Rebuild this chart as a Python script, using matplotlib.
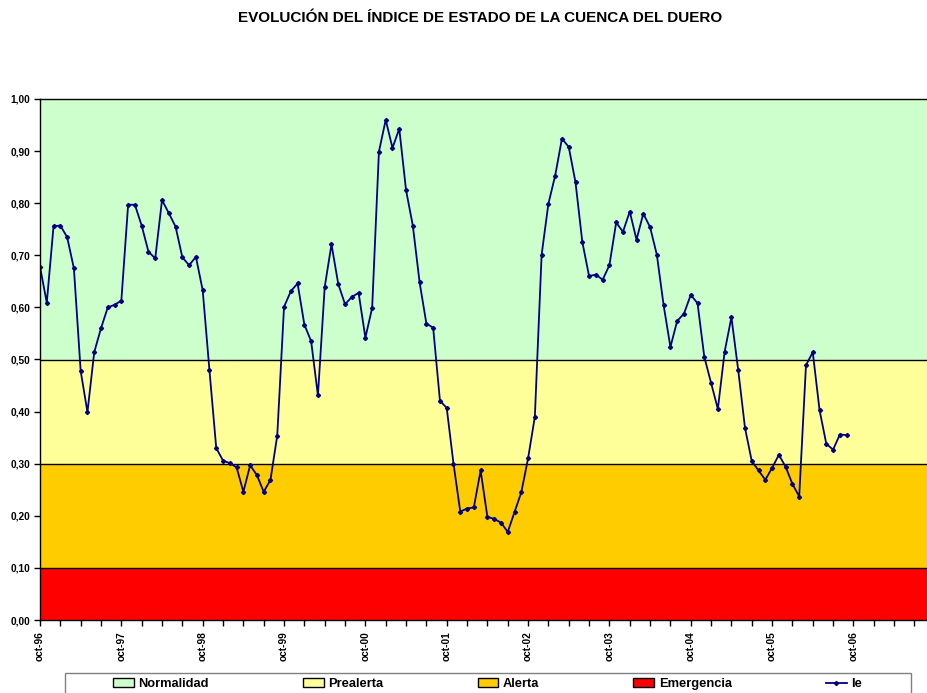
import numpy as np
import matplotlib
matplotlib.use("Agg")
import matplotlib.pyplot as plt
from matplotlib.patches import Patch, Rectangle
from matplotlib.lines import Line2D
from matplotlib.ticker import FuncFormatter, MultipleLocator

plt.rcParams['font.family'] = ['Liberation Sans', 'DejaVu Sans']

# Monthly state index of the Duero basin, oct-96 .. sep-06
ie_values = [
    0.678, 0.609, 0.756, 0.757, 0.735, 0.675, 0.478, 0.399, 0.514, 0.560, 0.600, 0.605,
    0.613, 0.797, 0.797, 0.757, 0.707, 0.694, 0.806, 0.781, 0.755, 0.696, 0.681, 0.697,
    0.633, 0.479, 0.330, 0.306, 0.301, 0.293, 0.246, 0.297, 0.278, 0.246, 0.269, 0.354,
    0.601, 0.631, 0.646, 0.567, 0.535, 0.431, 0.639, 0.721, 0.645, 0.606, 0.620, 0.628,
    0.542, 0.599, 0.899, 0.960, 0.906, 0.943, 0.825, 0.757, 0.648, 0.569, 0.561, 0.421,
    0.407, 0.300, 0.208, 0.214, 0.216, 0.287, 0.198, 0.194, 0.187, 0.169, 0.207, 0.245,
    0.310, 0.390, 0.701, 0.799, 0.853, 0.924, 0.908, 0.840, 0.726, 0.660, 0.663, 0.653,
    0.681, 0.763, 0.745, 0.784, 0.730, 0.780, 0.754, 0.701, 0.604, 0.524, 0.574, 0.588,
    0.624, 0.608, 0.505, 0.455, 0.405, 0.515, 0.581, 0.480, 0.369, 0.305, 0.287, 0.269,
    0.292, 0.317, 0.294, 0.261, 0.237, 0.489, 0.514, 0.403, 0.338, 0.327, 0.356, 0.355,
]

# Threshold bands (lower, upper) and their names / colours
band_names = ["Normalidad", "Prealerta", "Alerta", "Emergencia"]
band_lower = [0.5, 0.3, 0.1, 0.0]
band_upper = [1.0, 0.5, 0.3, 0.1]
band_colors = ["#CCFFCC", "#FFFF99", "#FFCC00", "#FF0000"]

# Month axis: oct-96 .. sep-07
n_months = 132
year_labels = ["oct-96", "oct-97", "oct-98", "oct-99", "oct-00", "oct-01",
               "oct-02", "oct-03", "oct-04", "oct-05", "oct-06"]

fig = plt.figure(figsize=(9.28, 6.93), dpi=100)
W, H = 928, 693
ax = fig.add_axes([40 / W, 1 - 620 / H, (928 - 40) / W, (620 - 99) / H])

for lo, hi, col in zip(band_lower, band_upper, band_colors):
    ax.fill_between([0, n_months - 1], [lo, lo], [hi, hi], color=col, lw=0, zorder=1)
for lo in band_lower[:-1]:
    ax.axhline(lo, color="black", lw=1.0, zorder=2)

x = np.arange(len(ie_values))
ax.plot(x, ie_values, color="#000080", lw=1.3, marker="D", ms=2.1,
        mec="#000080", mfc="#000080", zorder=3)

ax.set_xlim(0, n_months - 1)
ax.set_ylim(0, 1.0)

ax.yaxis.set_major_locator(MultipleLocator(0.1))
ax.yaxis.set_major_formatter(FuncFormatter(lambda v, p: f"{v:.2f}".replace(".", ",")))
ax.set_xticks(np.arange(0, n_months, 3))
ax.set_xticklabels([year_labels[i // 12] if (i % 12 == 0 and i // 12 < len(year_labels)) else ""
                    for i in range(0, n_months, 3)])
ax.tick_params(axis="x", length=4, width=1, rotation=90, labelsize=7.3, pad=4)
ax.tick_params(axis="y", length=4, width=1, labelsize=7.3, pad=3)
for lbl in ax.get_xticklabels() + ax.get_yticklabels():
    lbl.set_fontweight("bold")

for side in ["left", "bottom", "top", "right"]:
    ax.spines[side].set_color("black")
    ax.spines[side].set_linewidth(1.0)
    ax.spines[side].set_zorder(4)

fig.text(480.5 / W, 1 - 18 / H, "EVOLUCIÓN DEL ÍNDICE DE ESTADO DE LA CUENCA DEL DUERO",
         ha="center", va="center", fontsize=11, fontweight="bold")

# Legend box along the bottom edge
fig.patches.append(Rectangle((65 / W, -0.02), (911 - 65) / W, 0.02 + (693 - 673) / H,
                             transform=fig.transFigure, facecolor="white",
                             edgecolor="#808080", lw=1.0, zorder=0))
handles = [Patch(facecolor=c, edgecolor="black", lw=1.0) for c in band_colors]
handles.append(Line2D([], [], color="#000080", lw=1.3, marker="D", ms=2.1))
labels = band_names + ["Ie"]
leg = fig.legend(handles, labels, ncol=5, loc="center left",
                 bbox_to_anchor=(113 / W, 1 - 684 / H), frameon=False,
                 prop={"weight": "bold", "size": 9.3}, handlelength=1.6,
                 handleheight=0.6, handletextpad=0.35, columnspacing=7.3,
                 borderpad=0, borderaxespad=0)

fig.savefig("out.png", dpi=100)
